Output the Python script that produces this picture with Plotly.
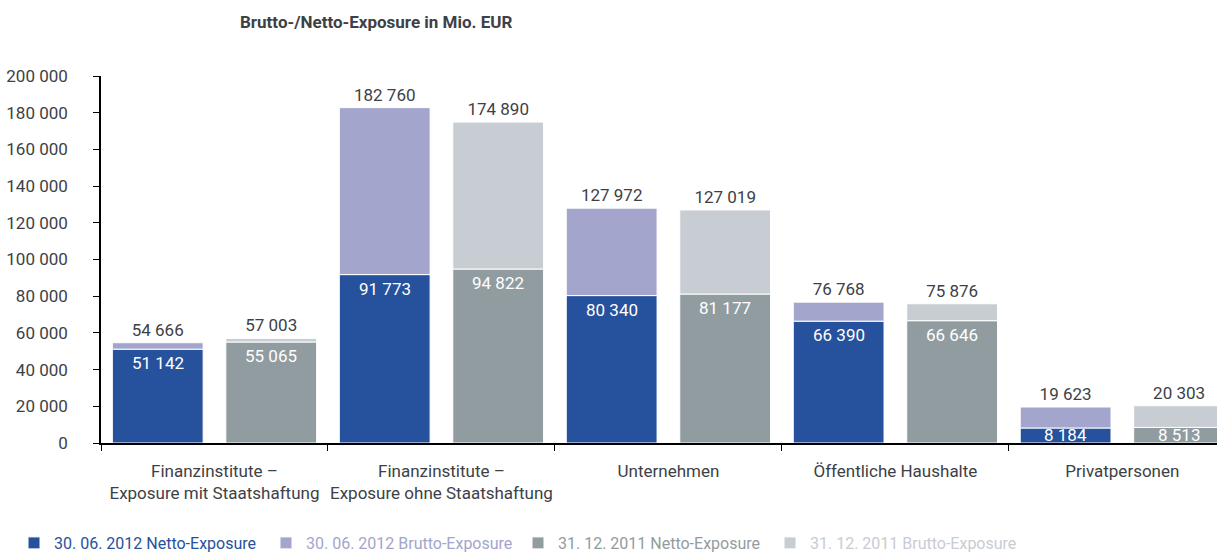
import plotly.graph_objects as go

categories = ["Finanzinstitute –<br>Exposure mit Staatshaftung",
              "Finanzinstitute –<br>Exposure ohne Staatshaftung",
              "Unternehmen", "Öffentliche Haushalte", "Privatpersonen"]
netto_2012 = [51142, 91773, 80340, 66390, 8184]
brutto_2012 = [54666, 182760, 127972, 76768, 19623]
netto_2011 = [55065, 94822, 81177, 66646, 8513]
brutto_2011 = [57003, 174890, 127019, 75876, 20303]
y_ticks = [0, 20000, 40000, 60000, 80000, 100000, 120000, 140000, 160000, 180000, 200000]

FONT = "Roboto"
TXT = "#3d4146"
C_N12, C_B12, C_N11, C_B11 = "#26519c", "#a3a5cc", "#919ca0", "#c8ccd3"
FS = 17
W, H = 1217, 552
ML, MR, MT, MB = 101, 0, 76, 109
X_RANGE = [-0.5, 4.417]
Y_RANGE = [0, 200000]
BAR_W = 0.4
px_per_cat = (W - ML - MR) / (X_RANGE[1] - X_RANGE[0])
px_per_val = (H - MT - MB) / (Y_RANGE[1] - Y_RANGE[0])

def fmt(v):
    return f"{v:,}".replace(",", " ")

fig = go.Figure()
annotations = []

def add_pair(netto, brutto, cn, cb, name_n, name_b, offset):
    fig.add_trace(go.Bar(
        x=categories, y=netto, base=[0]*len(netto), name=f"<span style='color:{cn}'>{name_n}</span>",
        marker=dict(color=cn, line=dict(color="white", width=1)),
        width=BAR_W, offset=offset, hoverinfo="skip"))
    fig.add_trace(go.Bar(
        x=categories, y=[b - n for b, n in zip(brutto, netto)], base=netto,
        name=f"<span style='color:{cb}'>{name_b}</span>",
        marker=dict(color=cb, line=dict(color="white", width=1)),
        width=BAR_W, offset=offset,
        text=[fmt(v) for v in brutto], textposition="outside",
        textfont=dict(color=TXT, size=FS, family=FONT), textangle=0,
        cliponaxis=False, hoverinfo="skip"))
    xshift = (offset + BAR_W / 2) * px_per_cat
    for c, v in zip(categories, netto):
        small = v * px_per_val < 24
        annotations.append(dict(
            x=c, y=v / 2 if small else v, xref="x", yref="y",
            xshift=xshift, yshift=0 if small else -2,
            yanchor="middle" if small else "top", xanchor="center",
            text=fmt(v), showarrow=False,
            font=dict(color="white", size=FS, family=FONT)))

add_pair(netto_2012, brutto_2012, C_N12, C_B12, "30. 06. 2012 Netto-Exposure", "30. 06. 2012 Brutto-Exposure", -0.45)
add_pair(netto_2011, brutto_2011, C_N11, C_B11, "31. 12. 2011 Netto-Exposure", "31. 12. 2011 Brutto-Exposure", 0.05)

fig.update_layout(
    width=W, height=H,
    barmode="overlay",
    plot_bgcolor="white", paper_bgcolor="white",
    margin=dict(l=ML, r=MR, t=MT, b=MB, autoexpand=False),
    font=dict(family=FONT, size=FS, color=TXT),
    separators=", ",
    uniformtext=dict(minsize=FS, mode="show"),
    annotations=annotations,
    title=dict(text="<b>Brutto-/Netto-Exposure in Mio. EUR</b>", x=240/W, xref="container", xanchor="left",
               y=1 - 22/H, yref="container", yanchor="middle", font=dict(size=FS, color=TXT, family=FONT)),
    showlegend=True,
    legend=dict(orientation="h", xref="container", x=14/W, yref="container", y=9/H, yanchor="middle",
                font=dict(size=16, family=FONT), entrywidth=207, itemwidth=30, traceorder="normal"),
)
fig.update_xaxes(range=X_RANGE, showline=True, linecolor="black", linewidth=1.5,
                 ticks="outside", tickson="boundaries", ticklen=6, tickcolor="black",
                 showgrid=False, tickfont=dict(size=FS, color=TXT), automargin=False,
                 tickangle=0, ticklabelstandoff=12)
fig.update_yaxes(range=Y_RANGE, tickvals=y_ticks, tickformat=",d", showline=True, linecolor="black",
                 linewidth=1.5, ticks="outside", ticklen=6, tickcolor="black", showgrid=False,
                 zeroline=False, tickfont=dict(size=FS, color=TXT), automargin=False,
                 ticklabelstandoff=22)
fig.write_html("out.html", config={"displayModeBar": False},
               post_script="document.body.style.margin='0';")
